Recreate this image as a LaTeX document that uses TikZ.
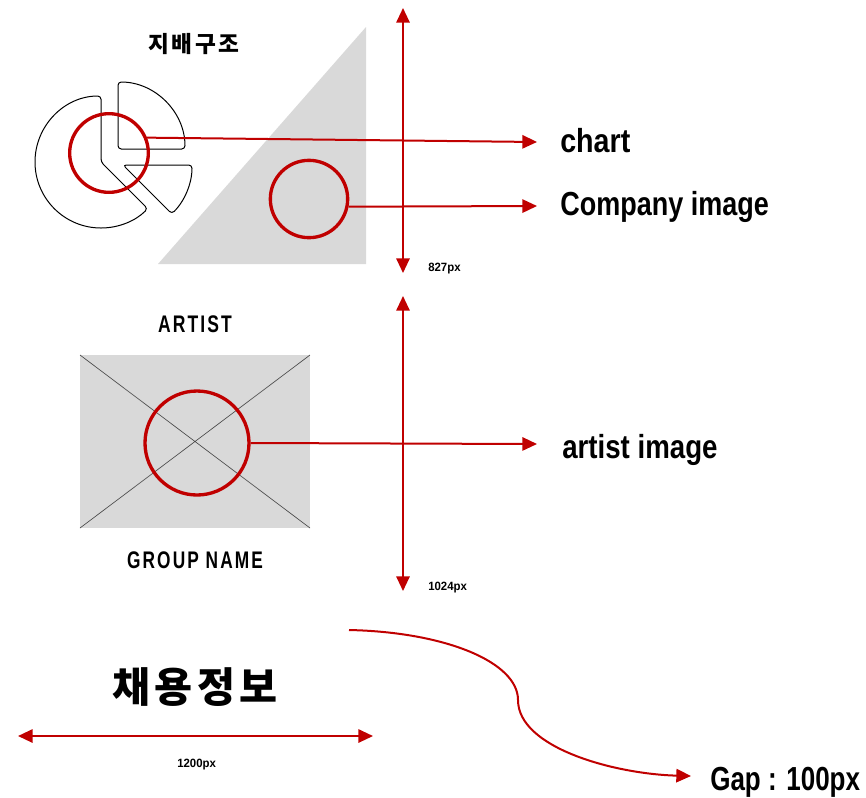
\documentclass[tikz,border=0pt]{standalone}
\usepackage{fontspec}
\setmainfont{Liberation Sans}
\newfontfamily\kr{Noto Sans CJK KR}[LetterSpace=10]
\newfontfamily\wide{Liberation Sans}[LetterSpace=12]
\usetikzlibrary{arrows.meta}
\definecolor{redline}{RGB}{192,0,0}
\definecolor{boxgray}{RGB}{217,217,217}
\newcommand{\tight}[2][0.84]{\scalebox{#1}[1]{#2}}

\begin{document}
\begin{tikzpicture}[x=0.75pt, y=-0.75pt,
  ring/.style={circle, draw=redline, line width=2.5pt, inner sep=0pt},
  pointer/.style={redline, line width=1.5pt, -{Triangle[length=11pt, width=10pt]}},
  dimline/.style={redline, line width=1.5pt, {Triangle[length=11pt, width=10pt]}-{Triangle[length=11pt, width=10pt]}},
  piece/.style={draw=black, line width=0.75pt, rounded corners=2.5pt},
  biglabel/.style={anchor=base west, inner sep=0pt, font=\bfseries\fontsize{25}{25}\selectfont},
  pxlabel/.style={anchor=base west, inner sep=0pt, font=\bfseries\fontsize{9}{9}\selectfont},
  title/.style={inner sep=0pt, font=\wide\bfseries\fontsize{18}{18}\selectfont}]
  \useasboundingbox (0,0) rectangle (866,797);

  \fill[boxgray] (158,264) -- (366,27) -- (366,264) -- cycle;
  \node[inner sep=0pt, font=\kr\bfseries\fontsize{17}{17}\selectfont] (jibae) at (194,44) {지배구조};
  \draw[piece] (101,162) -- ++(270:66) arc[start angle=270, end angle=45, radius=66] -- cycle;
  \draw[piece] (118,149) -- ++(270:67) arc[start angle=270, end angle=360, radius=67] -- cycle;
  \draw[piece] (123,165) -- ++(0:69) arc[start angle=0, end angle=45, radius=69] -- cycle;

  \node[ring, minimum size=59pt] (chartring) at (109,153) {};
  \node[ring, minimum size=58pt] (compring) at (309,199) {};
  \node[biglabel] (chart) at (560,152) {\tight[0.86]{chart}};
  \node[biglabel] (company) at (560,215) {\tight[0.81]{Company image}};
  \coordinate (chartend) at (537,142);
  \coordinate (compend) at (537,206);
  \draw[pointer] (chartring.22) -- (chartend);
  \draw[pointer] (compring.-11) -- (compend);

  \coordinate (top1) at (403,8);
  \coordinate (bot1) at (403,273);
  \draw[dimline] (top1) -- (bot1);
  \node[pxlabel] (h1) at (428,271) {\tight[0.95]{827px}};

  \node[title] (artist) at (195,324) {\tight[0.73]{ARTIST}};
  \fill[boxgray] (80,355) rectangle (310,528);
  \draw[gray!60!black, line width=0.5pt] (80,355) -- (310,528) (80,528) -- (310,355);
  \node[ring, minimum size=78pt] (artring) at (197,443) {};
  \node[biglabel] (artistimg) at (562,458) {\tight[0.83]{artist image}};
  \coordinate (artend) at (537,444);
  \draw[pointer] (artring.east) -- (artend);
  \node[title] (group) at (195,560) {\tight[0.72]{GROUP NAME}};

  \coordinate (top2) at (403,296);
  \coordinate (bot2) at (403,591);
  \draw[dimline] (top2) -- (bot2);
  \node[pxlabel] (h2) at (428,590) {\tight[0.95]{1024px}};

  \node[inner sep=0pt, font=\kr\bfseries\fontsize{31}{31}\selectfont] (recruit) at (195,687) {채용정보};
  \coordinate (left3) at (18,736);
  \coordinate (right3) at (373,736);
  \draw[dimline] (left3) -- (right3);
  \node[pxlabel] (w3) at (177,767) {\tight[0.95]{1200px}};

  \coordinate (gapstart) at (349,630);
  \coordinate (gapmid) at (518,700);
  \coordinate (gapend) at (691,776);
  \draw[pointer] (gapstart) .. controls (445,632) and (518,662) .. (gapmid)
                 .. controls (518,748) and (615,774) .. (gapend);
  \node[biglabel] (gap) at (710,790) {\tight[0.78]{Gap : 100px}};
\end{tikzpicture}
\end{document}
